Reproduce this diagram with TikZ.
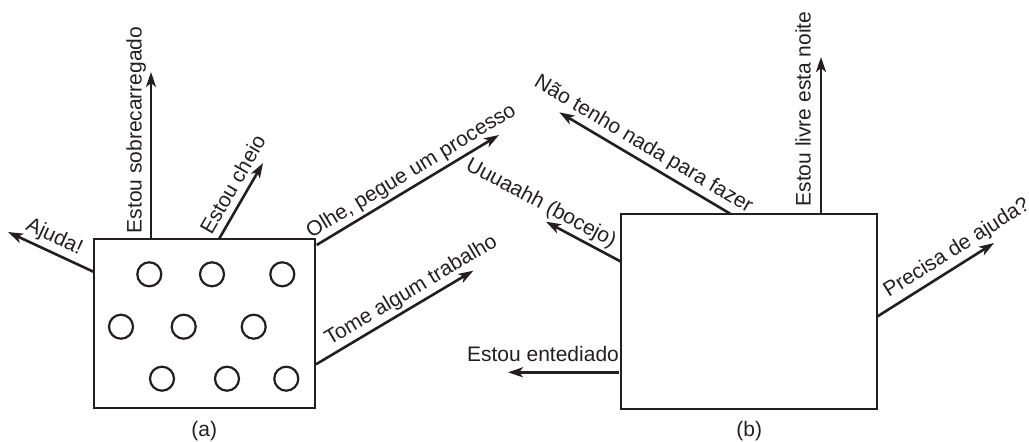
\documentclass[tikz,border=0pt]{standalone}
\usepackage{fontspec}
\setmainfont{Liberation Sans}
\usetikzlibrary{arrows.meta}
\definecolor{ink}{RGB}{35,31,32}
\begin{document}
\begin{tikzpicture}[x=1pt,y=-1pt,
  box/.style={draw=ink, line width=2.6pt, inner sep=0pt},
  circ/.style={circle, draw=ink, line width=2.2pt, minimum size=24pt, inner sep=0pt},
  arr/.style={draw=ink, line width=2.6pt, -{Stealth[length=15pt,width=10pt,inset=4pt]}},
  lbl/.style={text=ink, font=\fontsize{21}{25}\selectfont, inner sep=0pt, anchor=base},
  captxt/.style={text=ink, font=\fontsize{21}{25}\selectfont, inner sep=0pt}]
\useasboundingbox (0,0) rectangle (1029,442);
% boxes
\node[box, minimum width=221pt, minimum height=169pt] (boxA) at (204.5,323.5) {};
\node[box, minimum width=256pt, minimum height=195pt] (boxB) at (749,311.5) {};
% processes in (a)
\node[circ] (c1) at (149.3,274.3) {};
\node[circ] (c2) at (212,274.3) {};
\node[circ] (c3) at (282.3,274.3) {};
\node[circ] (c4) at (121,326.7) {};
\node[circ] (c5) at (183.7,326.7) {};
\node[circ] (c6) at (253.7,326.7) {};
\node[circ] (c7) at (162,378.7) {};
\node[circ] (c8) at (227,378.7) {};
\node[circ] (c9) at (286.3,378.7) {};
% arrow end points (a)
\coordinate (a1s) at (94,272);    \coordinate (a1e) at (8,232);
\coordinate (a2s) at (151,239);   \coordinate (a2e) at (151,72);
\coordinate (a3s) at (219,239);   \coordinate (a3e) at (263,163);
\coordinate (a4s) at (316.7,245); \coordinate (a4e) at (499,135);
\coordinate (a5s) at (316,364.3); \coordinate (a5e) at (473.3,270.7);
% arrow end points (b)
\coordinate (b1s) at (730.7,214); \coordinate (b1e) at (559.3,112.3);
\coordinate (b2s) at (821,214);   \coordinate (b2e) at (821,57);
\coordinate (b3s) at (621,261.7); \coordinate (b3e) at (546,221.7);
\coordinate (b4s) at (619,372.3); \coordinate (b4e) at (508,372.3);
\coordinate (b5s) at (877,316.7); \coordinate (b5e) at (994,243);
% arrows
\foreach \p in {a1,a2,a3,a4,a5,b1,b2,b3,b4,b5}{\draw[arr] (\p s) -- (\p e);}
% labels (a)
\node[lbl, rotate=-24.9] (la1) at (51.8,242.3) {Ajuda!};
\node[lbl, rotate=90] (la2) at (141.5,130) {Estou sobrecarregado};
\node[lbl, rotate=60] (la3) at (239.1,188.2) {Estou cheio};
\node[lbl, rotate=31.15] (la4) at (414.2,176.2) {Olhe, pegue um processo};
\node[lbl, rotate=30.75] (la5) at (414.1,295.5) {Tome algum trabalho};
% labels (b)
\node[lbl, rotate=-30.7] (lb1) at (640.5,149.5) {Não tenho nada para fazer};
\node[lbl, rotate=90] (lb2) at (810.5,109) {Estou livre esta noite};
\node[lbl, rotate=-28.1] (lb3) at (538.3,208.5) {Uuuaahh (bocejo)};
\node[lbl] (lb4) at (543,361) {Estou entediado};
\node[lbl, rotate=32.25] (lb5) at (960,253) {Precisa de ajuda?};
% captions
\node[captxt] (capA) at (204.3,431) {(a)};
\node[captxt] (capB) at (749.3,431) {(b)};
\end{tikzpicture}
\end{document}
